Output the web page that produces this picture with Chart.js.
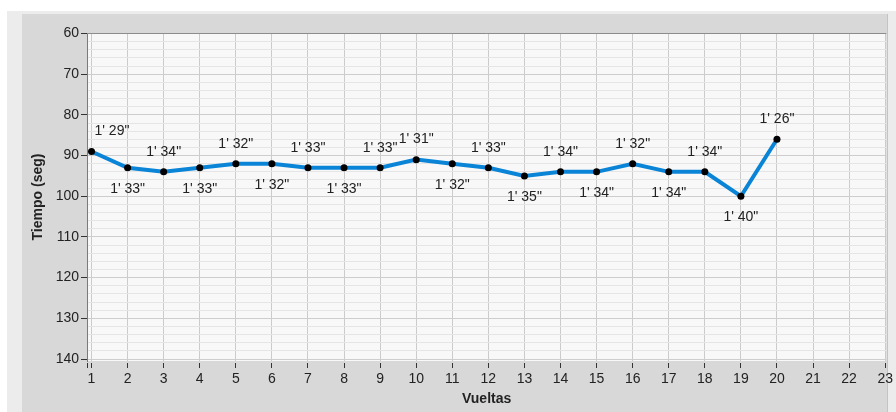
<!DOCTYPE html>
<html>
<head>
<meta charset="utf-8">
<script src="https://cdn.jsdelivr.net/npm/chart.js@4/dist/chart.umd.min.js"></script>
<style>
  html, body { margin: 0; padding: 0; background: #ffffff; }
  #c { display: block; }
</style>
</head>
<body>
<canvas id="c" width="896" height="412"></canvas>
<script>
// ---- data ----
const laps = [1, 2, 3, 4, 5, 6, 7, 8, 9, 10, 11, 12, 13, 14, 15, 16, 17, 18, 19, 20];
const times = [89, 93, 94, 93, 92, 92, 93, 93, 93, 91, 92, 93, 95, 94, 94, 92, 94, 94, 100, 86];
const timeLabels = ["1' 29\"", "1' 33\"", "1' 34\"", "1' 33\"", "1' 32\"", "1' 32\"", "1' 33\"", "1' 33\"", "1' 33\"", "1' 31\"",
                    "1' 32\"", "1' 33\"", "1' 35\"", "1' 34\"", "1' 34\"", "1' 32\"", "1' 34\"", "1' 34\"", "1' 40\"", "1' 26\""];
const labelSide = ["above", "below", "above", "below", "above", "below", "above", "below", "above", "above",
                   "below", "above", "below", "above", "below", "above", "below", "above", "below", "above"];
const xTickValues = [1, 2, 3, 4, 5, 6, 7, 8, 9, 10, 11, 12, 13, 14, 15, 16, 17, 18, 19, 20, 21, 22, 23];
const yMajorTicks = [60, 70, 80, 90, 100, 110, 120, 130, 140];
const yMinorStep = 2;

// ---- styling ----
const FONT = "'Liberation Sans', Arial, sans-serif";
const X_MIN = 0.875, X_MAX = 23.03;
const Y_MIN = 59.88, Y_MAX = 140.49;

const backgroundPlugin = {
  id: 'panelBg',
  beforeDraw(chart) {
    const ctx = chart.ctx;
    const W = chart.width, H = chart.height;
    const a = chart.chartArea;
    ctx.save();
    ctx.fillStyle = '#ffffff';
    ctx.fillRect(0, 0, W, H);
    ctx.fillStyle = '#ececec';
    ctx.fillRect(7, 11, W - 7, H - 11);
    ctx.fillStyle = '#d8d8d8';
    ctx.fillRect(22, 14, 866, H - 14);
    ctx.fillStyle = '#c4c4c4';
    ctx.fillRect(887, 14, 1, H - 14);
    ctx.fillStyle = '#f8f8f8';
    ctx.fillRect(a.left, a.top, a.right - a.left, a.bottom - a.top);
    ctx.restore();
  },
  afterDraw(chart) {
    const ctx = chart.ctx;
    const a = chart.chartArea;
    ctx.save();
    ctx.strokeStyle = '#8c8c8c';
    ctx.lineWidth = 1;
    ctx.beginPath();
    ctx.moveTo(a.left, a.top + 0.5);
    ctx.lineTo(a.right, a.top + 0.5);
    ctx.stroke();
    ctx.restore();
  }
};

const pointLabelPlugin = {
  id: 'pointLabels',
  afterDatasetsDraw(chart) {
    const ctx = chart.ctx;
    const meta = chart.getDatasetMeta(0);
    const a = chart.chartArea;
    ctx.save();
    ctx.font = '14px ' + FONT;
    ctx.fillStyle = '#222222';
    ctx.textBaseline = 'middle';
    meta.data.forEach((pt, i) => {
      const txt = timeLabels[i];
      const w = ctx.measureText(txt).width;
      let x = pt.x;
      const y = labelSide[i] === 'above' ? pt.y - 20 : pt.y + 21;
      ctx.textAlign = 'center';
      if (x - w / 2 < a.left + 2) {
        ctx.textAlign = 'left';
        x = pt.x + 3;
      }
      ctx.fillText(txt, x, y);
    });
    ctx.restore();
  }
};

const yAllTicks = [];
for (let v = yMajorTicks[0]; v <= yMajorTicks[yMajorTicks.length - 1]; v += yMinorStep) yAllTicks.push(v);
const isMajor = v => yMajorTicks.includes(v);

new Chart(document.getElementById('c'), {
  type: 'line',
  data: {
    datasets: [{
      data: laps.map((l, i) => ({ x: l, y: times[i] })),
      borderColor: '#0a84d6',
      borderWidth: 4,
      pointBackgroundColor: '#000000',
      pointBorderWidth: 0,
      pointRadius: 3.5,
      tension: 0,
      fill: false
    }]
  },
  options: {
    responsive: false,
    animation: false,
    devicePixelRatio: 1,
    layout: { padding: { top: 33, left: 0, right: 9.5, bottom: 0 } },
    plugins: { legend: { display: false }, tooltip: { enabled: false } },
    scales: {
      x: {
        type: 'linear',
        min: X_MIN,
        max: X_MAX,
        afterBuildTicks: axis => { axis.ticks = [{ value: X_MIN }].concat(xTickValues.map(v => ({ value: v }))); },
        afterFit: s => { s.height = 51; },
        ticks: {
          autoSkip: false,
          maxRotation: 0,
          padding: 3,
          color: '#222222',
          font: { family: FONT, size: 14 },
          callback: v => (xTickValues.includes(v) ? String(v) : '')
        },
        grid: {
          color: ctx => (ctx.tick && ctx.tick.value === X_MIN ? 'rgba(0,0,0,0)' : '#cbcbcb'),
          lineWidth: 1,
          drawTicks: true,
          tickLength: 7,
          tickColor: '#333333',
          tickBorderDash: [0, 2, 5, 0]
        },
        border: { display: false },
        title: {
          display: true,
          text: 'Vueltas',
          color: '#222222',
          font: { family: FONT, size: 14, weight: 'bold' },
          padding: { top: 0, bottom: 4 }
        }
      },
      y: {
        type: 'linear',
        reverse: true,
        min: Y_MIN,
        max: Y_MAX,
        afterBuildTicks: axis => { axis.ticks = yAllTicks.map(v => ({ value: v })); },
        afterFit: s => { s.width = 87; },
        ticks: {
          autoSkip: false,
          padding: 2,
          color: '#222222',
          font: { family: FONT, size: 14 },
          callback: v => (isMajor(v) ? String(v) : '')
        },
        grid: {
          color: ctx => (ctx.tick && isMajor(ctx.tick.value) ? '#cdcdcd' : '#e5e5e5'),
          lineWidth: 1,
          drawTicks: true,
          tickLength: 6,
          tickColor: ctx => (ctx.tick && isMajor(ctx.tick.value) ? '#333333' : 'rgba(0,0,0,0)')
        },
        border: { display: true, color: '#7a7a7a', width: 1 },
        title: {
          display: true,
          text: 'Tiempo (seg)',
          color: '#222222',
          font: { family: FONT, size: 14, weight: 'bold' },
          padding: { top: 30, bottom: 0 }
        }
      }
    }
  },
  plugins: [backgroundPlugin, pointLabelPlugin]
});
</script>
</body>
</html>
